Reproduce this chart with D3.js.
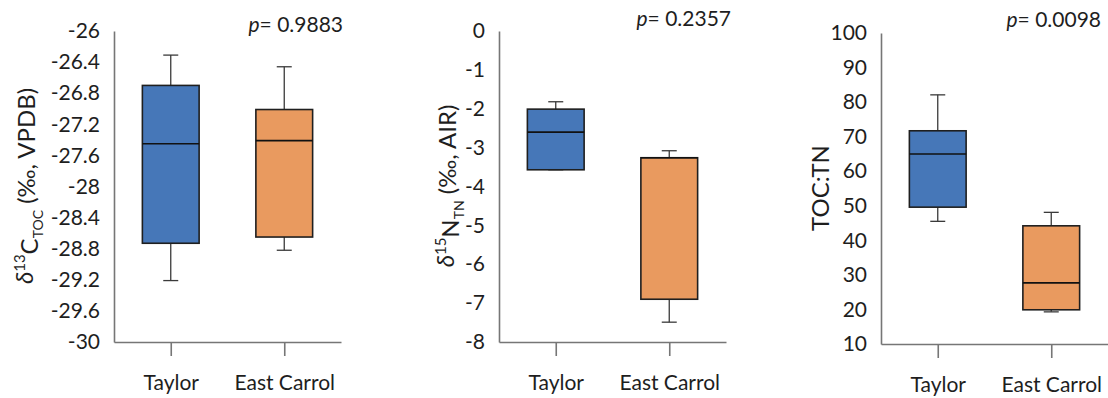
<!DOCTYPE html>
<html>
<head>
<meta charset="utf-8">
<script src="https://cdn.jsdelivr.net/npm/d3@7"></script>
<style>
  html, body { margin: 0; padding: 0; background: #fff; }
  svg { display: block; }
  text { font-family: Lato, "Open Sans", sans-serif; fill: #1e1e1e; }
</style>
</head>
<body>
<svg id="chart" width="1108" height="398"></svg>
<script>
// Sites compared in every panel
const groups = ["Taylor", "East Carrol"];

// Box statistics per site: [lower whisker, Q1, median, Q3, upper whisker]
const d13cTaylor      = [-29.21, -28.73, -27.45, -26.70, -26.31];
const d13cEastCarrol  = [-28.82, -28.65, -27.41, -27.01, -26.46];
const d15nTaylor      = [-3.57, -3.57, -2.60, -2.01, -1.82];
const d15nEastCarrol  = [-7.49, -6.90, -3.26, -3.26, -3.08];
const tocTnTaylor     = [45.5, 49.6, 65.0, 71.7, 82.1];
const tocTnEastCarrol = [19.3, 19.9, 27.7, 44.2, 48.1];

// Y-axis tick values
const d13cTicks  = [-26, -26.4, -26.8, -27.2, -27.6, -28, -28.4, -28.8, -29.2, -29.6, -30];
const d15nTicks  = [0, -1, -2, -3, -4, -5, -6, -7, -8];
const tocTnTicks = [100, 90, 80, 70, 60, 50, 40, 30, 20, 10];

// Significance of the site difference
const pValues = ["0.9883", "0.2357", "0.0098"];

const fills = ["#4677b8", "#e99a5f"];
const axisColor = "#767676";

const panels = [
  { stats: [d13cTaylor, d13cEastCarrol], ticks: d13cTicks, domain: [-30, -26],
    left: 114, top: 31, bottom: 342, pIdx: 0, pX: 343, pY: 32,
    titleX: 25, titleY: 186, title: "c" },
  { stats: [d15nTaylor, d15nEastCarrol], ticks: d15nTicks, domain: [-8, 0],
    left: 499, top: 31, bottom: 342, pIdx: 1, pX: 731, pY: 26,
    titleX: 446, titleY: 186, title: "n" },
  { stats: [tocTnTaylor, tocTnEastCarrol], ticks: tocTnTicks, domain: [10, 100],
    left: 881, top: 33, bottom: 344, pIdx: 2, pX: 1101, pY: 27,
    titleX: 821, titleY: 188, title: "r" }
];

const svg = d3.select("#chart");
const panelWidth = 227;
const fmt = v => String(+v.toFixed(1));

panels.forEach(p => {
  const g = svg.append("g");
  const y = d3.scaleLinear().domain(p.domain).range([p.bottom, p.top]);
  const x = d3.scalePoint().domain(groups).range([p.left, p.left + panelWidth]).padding(0.5);
  const boxW = x.step() * 0.5;
  const capW = 15;

  // y axis: labels only, no tick marks
  const ya = g.append("g").attr("transform", `translate(${p.left},0)`)
    .call(d3.axisLeft(y).tickValues(p.ticks).tickFormat(fmt).tickSize(0).tickSizeOuter(0).tickPadding(14));
  ya.select(".domain").attr("stroke", axisColor).attr("stroke-width", 1.6);
  ya.selectAll("text").attr("font-size", 21).attr("font-family", "Lato, sans-serif").attr("fill", "#1e1e1e");

  // x axis with downward category ticks
  const xa = g.append("g").attr("transform", `translate(0,${p.bottom})`)
    .call(d3.axisBottom(x).tickSize(14).tickSizeOuter(0).tickPadding(19));
  xa.select(".domain").attr("stroke", axisColor).attr("stroke-width", 1.6);
  xa.selectAll(".tick line").attr("stroke", axisColor).attr("stroke-width", 1.6);
  xa.selectAll("text").attr("font-size", 21).attr("font-family", "Lato, sans-serif").attr("fill", "#1e1e1e");

  // boxes
  p.stats.forEach((s, i) => {
    const cx = x(groups[i]);
    const [lo, q1, med, q3, hi] = s;
    const bg = g.append("g");
    // whiskers
    bg.append("line").attr("x1", cx).attr("x2", cx).attr("y1", y(hi)).attr("y2", y(q3))
      .attr("stroke", "#3a3a3a").attr("stroke-width", 1.3);
    bg.append("line").attr("x1", cx).attr("x2", cx).attr("y1", y(q1)).attr("y2", y(lo))
      .attr("stroke", "#3a3a3a").attr("stroke-width", 1.3);
    bg.append("line").attr("x1", cx - capW / 2).attr("x2", cx + capW / 2).attr("y1", y(hi)).attr("y2", y(hi))
      .attr("stroke", "#3a3a3a").attr("stroke-width", 1.3);
    bg.append("line").attr("x1", cx - capW / 2).attr("x2", cx + capW / 2).attr("y1", y(lo)).attr("y2", y(lo))
      .attr("stroke", "#3a3a3a").attr("stroke-width", 1.3);
    // box
    bg.append("rect").attr("x", cx - boxW / 2).attr("width", boxW)
      .attr("y", y(q3)).attr("height", y(q1) - y(q3))
      .attr("fill", fills[i]).attr("stroke", "#1f1f1f").attr("stroke-width", 1.6);
    // median
    bg.append("line").attr("x1", cx - boxW / 2).attr("x2", cx + boxW / 2).attr("y1", y(med)).attr("y2", y(med))
      .attr("stroke", "#111").attr("stroke-width", 1.6);
  });

  // p-value label
  const pt = g.append("text").attr("x", p.pX).attr("y", p.pY).attr("text-anchor", "end").attr("font-size", 21);
  pt.append("tspan").attr("font-style", "italic").text("p");
  pt.append("tspan").text("= " + pValues[p.pIdx]);

  // y-axis title
  const t = g.append("text").attr("transform", `translate(${p.titleX},${p.titleY}) rotate(-90)`)
    .attr("text-anchor", "middle").attr("dy", "0.35em").attr("font-size", 24);
  if (p.title === "c") {
    t.append("tspan").attr("font-style", "italic").text("δ");
    t.append("tspan").attr("font-size", 15).attr("dy", "-0.55em").text("13");
    t.append("tspan").attr("dy", "0.55em").text("C");
    t.append("tspan").attr("font-size", 14).attr("dy", "0.3em").text("TOC");
    t.append("tspan").attr("dy", "-0.3em").text(" (‰, VPDB)");
  } else if (p.title === "n") {
    t.append("tspan").attr("font-style", "italic").text("δ");
    t.append("tspan").attr("font-size", 15).attr("dy", "-0.55em").text("15");
    t.append("tspan").attr("dy", "0.55em").text("N");
    t.append("tspan").attr("font-size", 14).attr("dy", "0.3em").text("TN");
    t.append("tspan").attr("dy", "-0.3em").text(" (‰, AIR)");
  } else {
    t.text("TOC:TN");
  }
});
</script>
</body>
</html>
